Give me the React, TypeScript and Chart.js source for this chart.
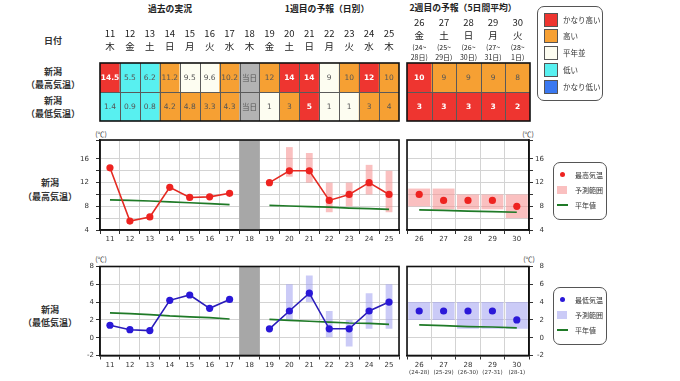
import React, { useEffect, useRef } from 'react';
import { Chart, registerables } from 'chart.js';
Chart.register(...registerables);

const W = 680;
const H = 381;

// ---------- data ----------
const days1 = ['11', '12', '13', '14', '15', '16', '17', '18', '19', '20', '21', '22', '23', '24', '25'];
const weekdays1 = ['木', '金', '土', '日', '月', '火', '水', '木', '金', '土', '日', '月', '火', '水', '木'];
const days2 = ['26', '27', '28', '29', '30'];
const weekdays2 = ['金', '土', '日', '月', '火'];
const periodsTop2 = ['(24~', '(25~', '(26~', '(27~', '(28~'];
const periodsBottom2 = ['28日)', '29日)', '30日)', '31日)', '1日)'];
const periodsAxis2 = ['(24-28)', '(25-29)', '(26-30)', '(27-31)', '(28-1)'];
const TODAY = '18';

// table texts and classes (vh: かなり高い, h: 高い, n: 平年並, l: 低い, vl: かなり低い, t: 当日)
const highText1 = ['14.5', '5.5', '6.2', '11.2', '9.5', '9.6', '10.2', '当日', '12', '14', '14', '9', '10', '12', '10'];
const highClass1 = ['vh', 'l', 'l', 'h', 'n', 'n', 'h', 't', 'h', 'vh', 'vh', 'n', 'h', 'vh', 'h'];
const lowText1 = ['1.4', '0.9', '0.8', '4.2', '4.8', '3.3', '4.3', '当日', '1', '3', '5', '1', '1', '3', '4'];
const lowClass1 = ['l', 'l', 'l', 'h', 'h', 'h', 'h', 't', 'n', 'h', 'vh', 'n', 'n', 'h', 'h'];
const highText2 = ['10', '9', '9', '9', '8'];
const highClass2 = ['vh', 'h', 'h', 'h', 'h'];
const lowText2 = ['3', '3', '3', '3', '2'];
const lowClass2 = ['vh', 'vh', 'vh', 'vh', 'vh'];

// chart values
const highObs1 = [14.5, 5.5, 6.2, 11.2, 9.5, 9.6, 10.2, null, 12, 14, 14, 9, 10, 12, 10];
const highRange1 = [null, null, null, null, null, null, null, null, null, [13, 18], [12, 17], [7, 12], [8, 12], [10, 15], [7, 14]];
const highNormal1 = [9.1, 9.0, 8.9, 8.75, 8.6, 8.45, 8.3, null, 8.15, 8.05, 7.95, 7.85, 7.7, 7.6, 7.5];
const highFc2 = [10, 9, 9, 9, 8];
const highRange2 = [[8, 11], [7.5, 11], [7.5, 10], [7.5, 10], [6, 10]];
const highNormal2 = [7.4, 7.3, 7.2, 7.1, 7.0];

const lowObs1 = [1.4, 0.9, 0.8, 4.2, 4.8, 3.3, 4.3, null, 1, 3, 5, 1, 1, 3, 4];
const lowRange1 = [null, null, null, null, null, null, null, null, null, [2, 6], [4, 7], [0, 3], [-1, 2], [1, 5], [1, 6]];
const lowNormal1 = [2.8, 2.7, 2.6, 2.45, 2.35, 2.25, 2.1, null, 2.05, 1.95, 1.85, 1.75, 1.65, 1.6, 1.5];
const lowFc2 = [3, 3, 3, 3, 2];
const lowRange2 = [[2, 4], [2, 4], [1, 4], [1, 4], [1, 4]];
const lowNormal2 = [1.45, 1.35, 1.25, 1.2, 1.1];

const legendClasses = ['vh', 'h', 'n', 'l', 'vl'];
const legendNames = ['かなり高い', '高い', '平年並', '低い', 'かなり低い'];

// ---------- styles ----------
const CLASS_COLORS: Record<string, string> = {
  vh: '#ee3530',
  h: '#f6a033',
  n: '#fdfdf1',
  l: '#58f0f0',
  vl: '#3a78f0',
  t: '#b3b3b3',
};
const FONT_JP = '"Noto Sans CJK JP", "Noto Sans", sans-serif';
const FONT_NUM = '"DejaVu Sans", sans-serif';
const GRID = '#d3d3d3';
const AXIS = '#1a1a1a';

type Box = { left: number; right: number; top: number; bottom: number };

const frame = {
  id: 'frame',
  afterDatasetsDraw(chart: any) {
    const { ctx, chartArea: a } = chart;
    ctx.save();
    ctx.strokeStyle = '#111';
    ctx.lineWidth = 1.6;
    ctx.strokeRect(a.left, a.top, a.right - a.left, a.bottom - a.top);
    ctx.restore();
  },
};

type Row = { pos: number; texts: string[]; classes: string[] };
type Header = { texts: string[]; y: number; font: string; color: string };

function tablePlugin(rows: Row[], headers: Header[]) {
  return {
    id: 'tableText',
    afterDatasetsDraw(chart: any) {
      const { ctx, chartArea: a } = chart;
      const xs = chart.scales.x;
      const ys = chart.scales.y;
      const n = chart.data.labels.length;
      ctx.save();
      ctx.strokeStyle = '#5a5a5a';
      ctx.lineWidth = 1;
      for (let i = 0; i < n - 1; i++) {
        const x = Math.round((xs.getPixelForValue(i) + xs.getPixelForValue(i + 1)) / 2) + 0.5;
        ctx.beginPath();
        ctx.moveTo(x, a.top);
        ctx.lineTo(x, a.bottom);
        ctx.stroke();
      }
      const ym = Math.round(ys.getPixelForValue(1)) + 0.5;
      ctx.beginPath();
      ctx.moveTo(a.left, ym);
      ctx.lineTo(a.right, ym);
      ctx.stroke();
      ctx.strokeStyle = '#111';
      ctx.lineWidth = 1.6;
      ctx.strokeRect(a.left, a.top, a.right - a.left, a.bottom - a.top);
      ctx.textAlign = 'center';
      ctx.textBaseline = 'middle';
      rows.forEach((r) => {
        const yc = ys.getPixelForValue(r.pos + 0.5);
        r.texts.forEach((t, i) => {
          const strong = r.classes[i] === 'vh';
          ctx.font = `${strong ? 'bold ' : ''}7.5px ${FONT_NUM}`;
          ctx.fillStyle = strong ? '#ffffff' : '#555555';
          if (t === '当日') ctx.font = `7.5px ${FONT_JP}`;
          ctx.fillText(t, xs.getPixelForValue(i), yc + 0.5);
        });
      });
      headers.forEach((h) => {
        ctx.font = h.font;
        ctx.fillStyle = h.color;
        h.texts.forEach((t, i) => ctx.fillText(t, xs.getPixelForValue(i), h.y));
      });
      ctx.restore();
    },
  };
}

function tableConfig(box: Box, labels: string[], rows: Row[], headers: Header[]): any {
  return {
    type: 'bar',
    data: {
      labels,
      datasets: rows.map((r) => ({
        data: labels.map(() => [r.pos, r.pos + 1]),
        backgroundColor: r.classes.map((c) => CLASS_COLORS[c]),
        barPercentage: 1,
        categoryPercentage: 1,
        grouped: false,
        borderWidth: 0,
      })),
    },
    options: {
      animation: false,
      responsive: false,
      devicePixelRatio: 1,
      events: [],
      layout: { padding: { left: box.left, right: W - box.right, top: box.top, bottom: H - box.bottom } },
      plugins: { legend: { display: false }, tooltip: { enabled: false } },
      scales: {
        x: { display: false, offset: true },
        y: { display: false, min: 0, max: 2 },
      },
    },
    plugins: [tablePlugin(rows, headers)],
  };
}

type PlotSpec = {
  box: Box;
  labels: string[];
  yMin: number;
  yMax: number;
  step: number;
  labelEvery: number;
  obs: (number | null)[];
  ranges: any[];
  normal: (number | null)[];
  pointColor: string;
  lineColor: string;
  rangeColor: string;
  showLine: boolean;
  rangeWidth: number;
  yPos: 'left' | 'right';
  yLabelPad: number;
  xLabelPad: number;
  today?: string;
  subLabels?: string[];
  subY?: number;
};

function plotConfig(s: PlotSpec): any {
  const yW = s.yPos === 'left' ? 30 : 15;
  const xH = 20;
  const padding = {
    top: s.box.top,
    bottom: H - s.box.bottom - xH,
    left: s.box.left - (s.yPos === 'left' ? yW : 0),
    right: W - s.box.right - (s.yPos === 'right' ? yW : 0),
  };
  const datasets: any[] = [
    {
      type: 'line',
      data: s.obs,
      borderColor: s.lineColor,
      borderWidth: 1.6,
      showLine: s.showLine,
      pointRadius: 3.6,
      pointHoverRadius: 3.6,
      pointBackgroundColor: s.pointColor,
      pointBorderWidth: 0,
      spanGaps: false,
      order: 1,
    },
    {
      type: 'line',
      data: s.normal,
      borderColor: '#1f7a27',
      borderWidth: 1.7,
      pointRadius: 0,
      spanGaps: false,
      order: 2,
    },
    {
      type: 'bar',
      data: s.ranges,
      backgroundColor: s.rangeColor,
      barPercentage: s.rangeWidth,
      categoryPercentage: 1,
      grouped: false,
      order: 3,
    },
  ];
  if (s.today) {
    datasets.push({
      type: 'bar',
      data: s.labels.map((l) => (l === s.today ? [s.yMin, s.yMax] : null)),
      backgroundColor: '#a7a7a7',
      barPercentage: 1,
      categoryPercentage: 1,
      grouped: false,
      order: 4,
    });
  }
  const plugins: any[] = [frame];
  if (s.subLabels) {
    const subs = s.subLabels;
    const sy = s.subY || 0;
    plugins.push({
      id: 'subLabels',
      afterDraw(chart: any) {
        const { ctx } = chart;
        const xs = chart.scales.x;
        ctx.save();
        ctx.font = `5.5px ${FONT_NUM}`;
        ctx.fillStyle = '#333';
        ctx.textAlign = 'center';
        ctx.textBaseline = 'middle';
        subs.forEach((t, i) => ctx.fillText(t, xs.getPixelForValue(i), sy));
        ctx.restore();
      },
    });
  }
  return {
    type: 'bar',
    data: { labels: s.labels, datasets },
    options: {
      animation: false,
      responsive: false,
      devicePixelRatio: 1,
      events: [],
      layout: { padding },
      plugins: { legend: { display: false }, tooltip: { enabled: false } },
      scales: {
        x: {
          type: 'category',
          offset: true,
          grid: { color: GRID, offset: true, tickLength: 4, tickColor: '#333' },
          border: { color: AXIS, width: 1.5 },
          ticks: { font: { family: FONT_NUM, size: 7 }, color: '#333', padding: s.xLabelPad, maxRotation: 0, autoSkip: false },
          afterFit: (sc: any) => {
            sc.height = xH;
          },
        },
        y: {
          position: s.yPos,
          min: s.yMin,
          max: s.yMax,
          grid: { color: GRID, tickLength: 4, tickColor: '#333' },
          border: { color: AXIS, width: 1.5 },
          ticks: {
            stepSize: s.step,
            font: { family: FONT_NUM, size: 7 },
            color: '#333',
            padding: s.yLabelPad,
            crossAlign: s.yPos === 'right' ? 'far' : 'near',
            callback: (v: number) => (Math.abs(v % s.labelEvery) < 1e-6 ? String(v) : ''),
          },
          afterFit: (sc: any) => {
            sc.width = yW;
          },
        },
      },
    },
    plugins,
  };
}

// ---------- HTML helpers ----------
function Txt(props: { x: number; y: number; size?: number; weight?: number; color?: string; align?: 'center' | 'left'; children: any }) {
  const { x, y, size = 9, weight = 400, color = '#222', align = 'center', children } = props;
  return (
    <div
      style={{
        position: 'absolute',
        left: x,
        top: y,
        transform: `translate(${align === 'center' ? '-50%' : '0'}, -50%)`,
        fontSize: size,
        fontWeight: weight,
        color,
        fontFamily: FONT_JP,
        whiteSpace: 'nowrap',
        lineHeight: 1,
      }}
    >
      {children}
    </div>
  );
}

function ChartLegend(props: { top: number; name: string; dot: string; range: string }) {
  const { top, name, dot, range } = props;
  return (
    <>
      <div style={{ position: 'absolute', left: 553, top, width: 52, height: 56, border: '1px solid #555', borderRadius: 7, background: '#fff' }} />
      <div style={{ position: 'absolute', left: 559.5, top: top + 10, width: 5, height: 5, borderRadius: 3, background: dot }} />
      <div style={{ position: 'absolute', left: 557, top: top + 24, width: 10, height: 8, background: range }} />
      <div style={{ position: 'absolute', left: 557, top: top + 42, width: 11, height: 2, background: '#1f7a27' }} />
      <Txt x={575} y={top + 12.5} size={7} align="left" color="#333">{name}</Txt>
      <Txt x={575} y={top + 28} size={7} align="left" color="#333">予測範囲</Txt>
      <Txt x={575} y={top + 43} size={7} align="left" color="#333">平年値</Txt>
    </>
  );
}

export default function App() {
  const canvases = useRef<(HTMLCanvasElement | null)[]>([]);

  useEffect(() => {
    const headFont = `9.5px ${FONT_JP}`;
    const periodFont = `7px ${FONT_JP}`;
    const configs = [
      tableConfig({ left: 100, right: 399, top: 63, bottom: 121 }, days1, [
        { pos: 1, texts: highText1, classes: highClass1 },
        { pos: 0, texts: lowText1, classes: lowClass1 },
      ], [
        { texts: days1, y: 33.5, font: headFont, color: '#222' },
        { texts: weekdays1, y: 46, font: headFont, color: '#222' },
      ]),
      tableConfig({ left: 407, right: 530, top: 63, bottom: 121 }, days2, [
        { pos: 1, texts: highText2, classes: highClass2 },
        { pos: 0, texts: lowText2, classes: lowClass2 },
      ], [
        { texts: days2, y: 22, font: headFont, color: '#222' },
        { texts: weekdays2, y: 35, font: headFont, color: '#222' },
        { texts: periodsTop2, y: 47, font: periodFont, color: '#222' },
        { texts: periodsBottom2, y: 57.5, font: periodFont, color: '#222' },
      ]),
      plotConfig({
        box: { left: 100, right: 399, top: 140, bottom: 230 }, labels: days1, yMin: 4, yMax: 19.2, step: 2, labelEvery: 4,
        obs: highObs1, ranges: highRange1, normal: highNormal1, pointColor: '#ee2320', lineColor: '#e42a22',
        rangeColor: 'rgba(246,150,150,0.6)', showLine: true, rangeWidth: 0.34, yPos: 'left', yLabelPad: 7, xLabelPad: 1, today: TODAY,
      }),
      plotConfig({
        box: { left: 407, right: 529, top: 140, bottom: 230 }, labels: days2, yMin: 4, yMax: 19.2, step: 2, labelEvery: 4,
        obs: highFc2, ranges: highRange2, normal: highNormal2, pointColor: '#ee2320', lineColor: '#e42a22',
        rangeColor: 'rgba(246,150,150,0.6)', showLine: false, rangeWidth: 0.9, yPos: 'right', yLabelPad: 3, xLabelPad: 1,
      }),
      plotConfig({
        box: { left: 100, right: 399, top: 266.5, bottom: 355.5 }, labels: days1, yMin: -2, yMax: 8, step: 2, labelEvery: 2,
        obs: lowObs1, ranges: lowRange1, normal: lowNormal1, pointColor: '#2a18d8', lineColor: '#2a1cb8',
        rangeColor: 'rgba(160,160,240,0.55)', showLine: true, rangeWidth: 0.34, yPos: 'left', yLabelPad: 2, xLabelPad: 1.5, today: TODAY,
      }),
      plotConfig({
        box: { left: 407, right: 529, top: 266.5, bottom: 355.5 }, labels: days2, yMin: -2, yMax: 8, step: 2, labelEvery: 2,
        obs: lowFc2, ranges: lowRange2, normal: lowNormal2, pointColor: '#2a18d8', lineColor: '#2a1cb8',
        rangeColor: 'rgba(160,160,240,0.55)', showLine: false, rangeWidth: 0.9, yPos: 'right', yLabelPad: 3, xLabelPad: 1.5,
        subLabels: periodsAxis2, subY: 372.5,
      }),
    ];
    const charts = configs.map((cfg, i) => new Chart(canvases.current[i] as HTMLCanvasElement, cfg));
    return () => charts.forEach((c) => c.destroy());
  }, []);

  return (
    <div style={{ position: 'fixed', left: 0, top: 0, width: W, height: H, background: '#fff', overflow: 'hidden' }}>
      {/* section titles */}
      <Txt x={170} y={9} size={8.8} weight={700}>過去の実況</Txt>
      <Txt x={327} y={9} size={8.8} weight={700}>1週目の予報（日別）</Txt>
      <Txt x={463} y={8} size={8.8} weight={700}>2週目の予報（5日間平均）</Txt>
      <Txt x={53} y={40} size={9} weight={700} color="#333">日付</Txt>
      <Txt x={53} y={71} size={9} weight={700} color="#333">新潟</Txt>
      <Txt x={53} y={83.5} size={9} weight={700} color="#333">（最高気温）</Txt>
      <Txt x={53} y={99.5} size={9} weight={700} color="#333">新潟</Txt>
      <Txt x={53} y={113} size={9} weight={700} color="#333">（最低気温）</Txt>
      <Txt x={50} y={182} size={9} weight={700} color="#333">新潟</Txt>
      <Txt x={50} y={195.5} size={9} weight={700} color="#333">（最高気温）</Txt>
      <Txt x={50} y={308.5} size={9} weight={700} color="#333">新潟</Txt>
      <Txt x={50} y={322} size={9} weight={700} color="#333">（最低気温）</Txt>
      <Txt x={101} y={133.5} size={7} color="#333">(℃)</Txt>
      <Txt x={528} y={133.5} size={7} color="#333">(℃)</Txt>
      <Txt x={101} y={258.5} size={7} color="#333">(℃)</Txt>
      <Txt x={529} y={259} size={7} color="#333">(℃)</Txt>

      {[0, 1, 2, 3, 4, 5].map((i) => (
        <canvas
          key={i}
          ref={(el) => {
            canvases.current[i] = el;
          }}
          width={W}
          height={H}
          style={{ position: 'absolute', left: 0, top: 0, width: W, height: H }}
        />
      ))}

      {/* class legend */}
      <div style={{ position: 'absolute', left: 537, top: 6, width: 64, height: 93, border: '1px solid #555', borderRadius: 7, background: '#fff' }} />
      {legendClasses.map((c, i) => (
        <React.Fragment key={c}>
          <div
            style={{
              position: 'absolute',
              left: 544,
              top: 12.5 + i * 16.8,
              width: 12,
              height: 12,
              background: CLASS_COLORS[c],
              border: '1px solid #555',
            }}
          />
          <Txt x={563} y={19.5 + i * 16.8} size={7.5} align="left" color="#333">{legendNames[i]}</Txt>
        </React.Fragment>
      ))}

      <ChartLegend top={162} name="最高気温" dot="#ee2320" range="rgba(246,150,150,0.6)" />
      <ChartLegend top={287} name="最低気温" dot="#2a18d8" range="rgba(160,160,240,0.55)" />
    </div>
  );
}
